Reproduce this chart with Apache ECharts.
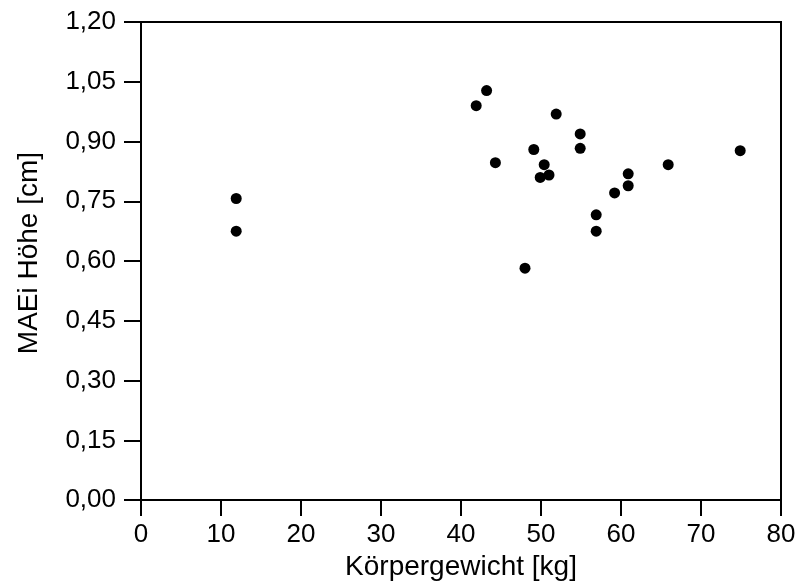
<!DOCTYPE html>
<html>
<head>
<meta charset="utf-8">
<script src="https://cdn.jsdelivr.net/npm/echarts@6/dist/echarts.min.js"></script>
<style>html,body{margin:0;padding:0;background:#fff;}#c{width:800px;height:586px;}</style>
</head>
<body>
<div id="c"></div>
<script>
var weights = [11.9, 11.9, 41.9, 43.2, 44.3, 48.0, 49.1, 50.4, 49.9, 51.0, 51.9, 54.9, 54.9, 56.9, 56.9, 59.2, 60.9, 60.9, 65.9, 74.9];
var heights = [0.757, 0.675, 0.990, 1.028, 0.847, 0.582, 0.880, 0.842, 0.810, 0.816, 0.969, 0.919, 0.883, 0.716, 0.675, 0.771, 0.819, 0.789, 0.842, 0.877];
var xTicks = [0, 10, 20, 30, 40, 50, 60, 70, 80];
var yTicks = [0, 0.15, 0.30, 0.45, 0.60, 0.75, 0.90, 1.05, 1.20];

var pts = weights.map(function (w, i) { return [w, heights[i]]; });
var font = '"Liberation Sans", Arial, sans-serif';
var chart = echarts.init(document.getElementById('c'), null, {renderer: 'canvas'});
chart.setOption({
  animation: false,
  backgroundColor: '#fff',
  grid: {left: 141, right: 19, top: 22, bottom: 84, show: true, borderColor: '#000', borderWidth: 2, backgroundColor: 'transparent'},
  xAxis: {
    type: 'value', min: xTicks[0], max: xTicks[xTicks.length - 1], interval: 10,
    name: 'Körpergewicht [kg]', nameLocation: 'middle', nameGap: 52,
    nameTextStyle: {color: '#000', fontSize: 28, fontFamily: font},
    axisLine: {show: true, lineStyle: {color: '#000', width: 2}},
    axisTick: {show: true, length: 16, lineStyle: {color: '#000', width: 2}},
    axisLabel: {color: '#000', fontSize: 26, fontFamily: font, margin: 22},
    splitLine: {show: false}
  },
  yAxis: {
    type: 'value', min: yTicks[0], max: yTicks[yTicks.length - 1], interval: 0.15,
    name: 'MAEi Höhe [cm]', nameLocation: 'middle', nameGap: 98,
    nameTextStyle: {color: '#000', fontSize: 28, fontFamily: font, padding: [0, 0, 0, 16]},
    axisLine: {show: true, lineStyle: {color: '#000', width: 2}},
    axisTick: {show: true, length: 17, lineStyle: {color: '#000', width: 2}},
    axisLabel: {color: '#000', fontSize: 26, fontFamily: font, margin: 25,
      formatter: function (v) { return v.toFixed(2).replace('.', ','); }},
    splitLine: {show: false}
  },
  series: [{
    type: 'scatter', data: pts, symbol: 'circle', symbolSize: 11,
    itemStyle: {color: '#000', opacity: 1}
  }]
});
</script>
</body>
</html>
